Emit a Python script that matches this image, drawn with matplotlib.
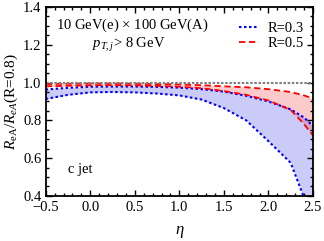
import matplotlib
matplotlib.use("Agg")
import matplotlib.pyplot as plt
from matplotlib.ticker import MultipleLocator

plt.rcParams['font.family'] = ['Liberation Serif', 'DejaVu Serif']
plt.rcParams['mathtext.fontset'] = 'custom'
plt.rcParams['mathtext.rm'] = 'Liberation Serif'
plt.rcParams['mathtext.it'] = 'Liberation Serif:italic'

eta = [-0.5, -0.25, 0.0, 0.25, 0.5, 0.75, 1.0, 1.25, 1.5, 1.75, 2.0, 2.25, 2.4, 2.5]
r03_up = [0.963, 0.972, 0.978, 0.979, 0.979, 0.977, 0.973, 0.965, 0.952, 0.930, 0.900, 0.858, 0.815, 0.770]
r03_lo = [0.913, 0.935, 0.948, 0.950, 0.948, 0.942, 0.932, 0.910, 0.865, 0.800, 0.690, 0.575, 0.390, 0.300]
r05_up = [0.992, 0.994, 0.995, 0.995, 0.994, 0.992, 0.990, 0.986, 0.980, 0.975, 0.965, 0.950, 0.932, 0.915]
r05_lo = [0.980, 0.983, 0.985, 0.986, 0.985, 0.982, 0.978, 0.970, 0.955, 0.935, 0.905, 0.855, 0.780, 0.720]

fig = plt.figure(figsize=(3.24, 2.41), dpi=100)
ax = fig.add_axes([0.141, 0.187, 0.825, 0.784])

ax.fill_between(eta, r03_lo, r03_up, color=(0.2, 0.2, 0.9), alpha=0.25, lw=0)
ax.fill_between(eta, r05_lo, r05_up, color=(0.95, 0.2, 0.2), alpha=0.25, lw=0)
ax.plot(eta, r03_up, color='blue', ls=(0, (1.2, 1.2)), lw=1.5, label='R=0.3')
ax.plot(eta, r03_lo, color='blue', ls=(0, (1.2, 1.2)), lw=1.5)
ax.plot(eta, r05_up, color='red', ls=(0, (3.5, 2)), lw=1.3, label='R=0.5')
ax.plot(eta, r05_lo, color='red', ls=(0, (3.5, 2)), lw=1.3)
ax.axhline(1.0, color='gray', ls=(0, (1.2, 0.8)), lw=1.5)

ax.set_xlim(-0.5, 2.5)
ax.set_ylim(0.4, 1.4)
ax.xaxis.set_major_locator(MultipleLocator(0.5))
ax.xaxis.set_minor_locator(MultipleLocator(0.1))
ax.yaxis.set_major_locator(MultipleLocator(0.2))
ax.yaxis.set_minor_locator(MultipleLocator(0.05))
ax.tick_params(which='both', direction='in', top=True, right=True, labelsize=10.5, width=1.0)
ax.tick_params(which='major', length=4)
ax.tick_params(which='minor', length=2)
ax.tick_params(axis='x', pad=4)
ax.tick_params(axis='y', pad=3)
for s in ax.spines.values():
    s.set_linewidth(1.3)

ax.set_xlabel(r'$\eta$', fontsize=12, labelpad=7)
ax.set_ylabel(r'$R_{\rm eA}/R_{eA}$(R=0.8)', fontsize=11, labelpad=2)

ax.text(0.04, 0.905, r'10 GeV(e) $\times$ 100 GeV(A)', transform=ax.transAxes, fontsize=10.5, va='center')
ax.text(0.175, 0.80, r'$p_{T,j}$> 8 GeV', transform=ax.transAxes, fontsize=10.5, va='center')
ax.text(0.085, 0.14, 'c jet', transform=ax.transAxes, fontsize=10.5, va='center')

ax.legend(loc='upper right', bbox_to_anchor=(1.0, 0.97), frameon=False, fontsize=10.5,
          handlelength=1.4, handletextpad=0.6, labelspacing=0.15, borderaxespad=0.2)

fig.savefig('out.png', dpi=100)
